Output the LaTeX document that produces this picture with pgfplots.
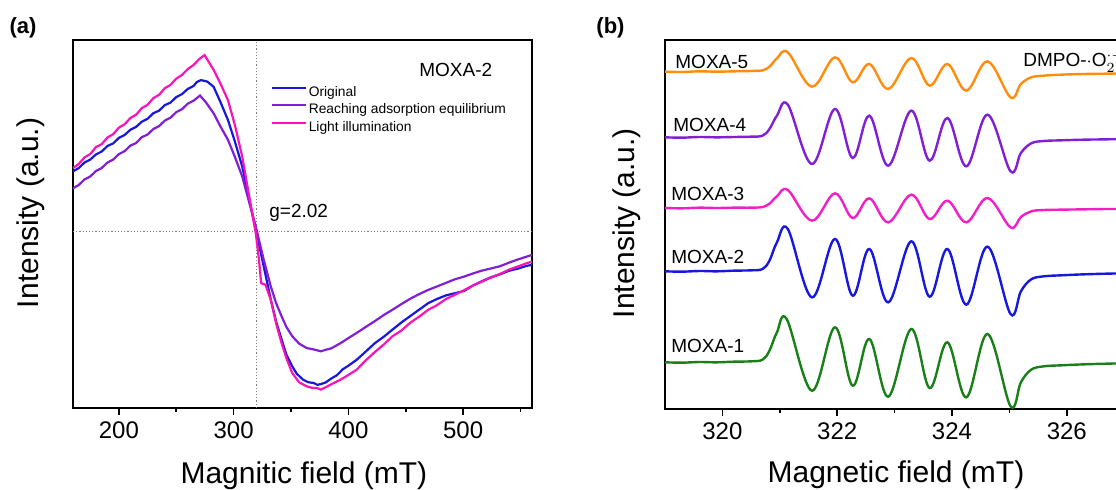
\documentclass[border=0pt]{standalone}
\usepackage{pgfplots}
\pgfplotsset{compat=1.18}
\usepackage{fontspec}
\setmainfont{Liberation Sans}
\definecolor{cBlue}{rgb}{0.09,0.09,0.88}
\definecolor{cPurple}{rgb}{0.50,0.12,0.84}
\definecolor{cPink}{rgb}{0.98,0.08,0.72}
\definecolor{cOrange}{rgb}{1.0,0.55,0.05}
\definecolor{cMag}{rgb}{0.94,0.12,0.78}
\definecolor{cGreen}{rgb}{0.10,0.50,0.10}
\pgfplotsset{
  common/.style={
    scale only axis,
    anchor=south west,
    ytick=\empty,
    tick pos=left,
    tick align=outside,
    axis line style={line width=1pt},
    every tick/.style={line width=0.8pt,black},
    major tick length=3.5pt,
    minor tick length=2pt,
    /pgf/number format/assume math mode=true,
    ticklabel style={font=\fontsize{12}{14}\selectfont},
    label style={font=\fontsize{15}{18}\selectfont},
    every axis plot/.append style={line width=1.1pt},
  }
}
\begin{document}
\begin{tikzpicture}
% ---------------- panel (a)
\begin{axis}[common,
  at={(36.5pt,40.5pt)}, width=229.5pt, height=184pt,
  xmin=160, xmax=560, ymin=0, ymax=100,
  xtick={200,300,400,500}, minor xtick={250,350,450,550},
  xlabel={Magnitic field (mT)}, ylabel={Intensity (a.u.)},
  xlabel style={at={(axis description cs:0.503,-0.204)}, anchor=base},
  ylabel style={at={(axis description cs:-0.075,0.53)}, anchor=base},
  legend style={at={(0.431,0.875)}, anchor=north west, draw=none, fill=none,
    font=\fontsize{6.9}{8}\selectfont, row sep=2.05pt, inner sep=0pt, outer sep=0pt,
    nodes={inner sep=0pt, text height=5.2pt, text depth=1.5pt},
    /tikz/every odd column/.style={column sep=1pt}},
  legend cell align=left,
  legend image code/.code={\draw[#1,line width=1pt] (0pt,2.4pt) -- (17pt,2.4pt);},
]
\draw[gray, densely dotted, line width=0.6pt] (axis cs:320,0) -- (axis cs:320,100);
\draw[gray, densely dotted, line width=0.6pt] (axis cs:160,47.9) -- (axis cs:560,47.9);
\addplot[cBlue] coordinates {
(160,64.3) (165,65.2) (170,66.7) (175,67.5) (180,68.9) (185,69.7) (190,71.2) (195,71.9)
(200,73.4) (205,74.2) (210,75.6) (215,76.4) (220,77.8) (225,78.6) (230,80.1) (235,80.8)
(240,82.3) (245,83.0) (250,84.5) (255,85.3) (260,86.7) (265,87.5) (268,88.6) (271.6,89.1)
(277,88.7) (282.5,87.3) (288,83.5) (295,78.3) (301,72.5) (307.5,65.6) (313,57.5) (319.3,48.4)
(326.2,38.5) (332.4,29.4) (337,23.5) (341.8,18.6) (346,14.5) (351.1,11.3) (355,9.3) (360.5,7.7)
(365,7.0) (369.8,6.8) (373,6.3) (376,6.5) (380,6.9) (385,8.0) (390,8.9) (395,10.5) (400,11.5)
(407.2,13.1) (415,15.3) (423,17.6) (431,19.4) (438.4,21.3) (446,23.2) (454,25.0) (462,26.8)
(469.6,28.5) (477,29.6) (485,30.6) (493,31.2) (500.8,31.8) (508,33.2) (516,34.4) (524,35.5)
(531.9,36.3) (540,37.3) (548,37.9) (555,38.6) (560,38.9)};
\addlegendentry{Original}
\addplot[cPurple] coordinates {
(160,59.7) (165,60.6) (170,62.1) (175,62.9) (180,64.4) (185,65.2) (190,66.7) (195,67.5)
(200,69.0) (205,69.8) (210,71.3) (215,72.0) (220,73.6) (225,74.3) (230,75.8) (235,76.6)
(240,78.1) (245,78.9) (250,80.4) (255,81.2) (260,82.7) (265,83.5) (270.7,84.9)
(276,83.0) (282.5,80.1) (288,76.8) (295,72.9) (301,68.3) (307.5,62.9) (313,56.5) (319.3,49.3)
(326.2,40.3) (332.4,33.0) (337,28.5) (341.8,24.9) (346,22.0) (351.1,19.5) (357,17.5) (363.6,16.3)
(370,15.9) (376.1,15.4) (380,15.8) (385,16.2) (393,17.6) (400,19.0)
(407.2,20.4) (415,22.0) (423,23.6) (431,25.3) (438.4,26.7) (446,28.2) (454,29.7) (462,31.0)
(469.6,32.1) (477,33.0) (485,34.0) (493,35.0) (500.8,35.7) (508,36.5) (516,37.3) (524,37.9)
(531.9,38.5) (540,39.5) (548,40.4) (555,41.1) (560,41.6)};
\addlegendentry{Reaching adsorption equilibrium}
\addplot[cPink] coordinates {
(160,65.2) (165,66.3) (170,68.1) (175,69.0) (180,70.9) (185,71.7) (190,73.5) (195,74.4)
(200,76.2) (205,77.1) (210,78.8) (215,79.7) (220,81.5) (225,82.4) (230,84.2) (235,85.1)
(240,86.9) (245,87.8) (250,89.5) (255,90.5) (260,92.1) (265,93.2) (270,94.8) (274.7,95.9)
(278,94.2) (282.5,91.9) (288,88.5) (295,83.7) (301,77.0) (307.5,68.3) (313,58.5) (319.3,47.5)
(322,40.5) (324,33.9) (327.7,33.5) (332.4,29.4) (337,23.0) (341.8,17.6) (346,13.5) (351.1,9.5)
(357,7.0) (363.6,5.9) (368,5.5) (372.9,5.4) (376,5.0) (380,5.6) (386,6.6) (392,7.5) (398,8.6)
(407.2,10.4) (415,12.9) (423,15.2) (431,17.3) (438.4,19.5) (446,21.0) (454,23.2) (462,24.9)
(469.6,26.7) (477,27.9) (485,29.6) (493,30.8) (500.8,32.0) (508,33.2) (516,34.3) (524,35.4)
(531.9,36.4) (540,37.6) (548,38.5) (555,39.3) (560,39.8)};
\addlegendentry{Light illumination}
\node[anchor=base, font=\fontsize{9.5}{11}\selectfont] at (rel axis cs:0.834,0.902) {MOXA-2};
\node[anchor=base west, inner sep=0pt, font=\fontsize{9.5}{11}\selectfont] at (rel axis cs:0.427,0.519) {g=2.02};
\end{axis}
% ---------------- panel (b)
\begin{axis}[common,
  at={(332.5pt,40pt)}, width=229.6pt, height=184.5pt,
  xmin=319, xmax=327, ymin=0, ymax=110.7,
  xtick={320,322,324,326}, minor xtick={321,323,325},
  xlabel={Magnetic field (mT)}, ylabel={Intensity (a.u.)},
  xlabel style={at={(axis description cs:0.503,-0.2005)}, anchor=base},
  ylabel style={at={(axis description cs:-0.066,0.504)}, anchor=base},
  every axis plot/.append style={smooth, tension=0.6, line width=1.2pt},
]
\addplot[cOrange] coordinates {
(319.0,101.2) (319.3,101.1) (319.6,101.3) (319.9,101.2) (320.2,101.3) (320.5,101.4) (320.7,101.6)
(320.82,102.7) (320.95,105.2) (321.14,107.0) (321.56,96.7) (321.96,105.5) (322.27,98.0)
(322.56,103.5) (322.89,96.0) (323.29,105.3) (323.61,97.0) (323.92,103.5) (324.25,95.5)
(324.62,104.3) (325.02,93.5) (325.2,97.5) (325.38,99.5) (325.6,100.0)
(325.9,100.3) (326.3,100.5) (326.7,100.6) (327.0,100.7)};
\addplot[cPurple] coordinates {
(319.0,81.5) (319.3,81.4) (319.6,81.6) (319.9,81.5) (320.2,81.6) (320.5,81.7) (320.7,82.0)
(320.82,84.0) (320.95,88.0) (321.14,91.3) (321.56,73.5) (321.96,90.0) (322.27,75.3)
(322.56,88.0) (322.89,73.0) (323.29,89.5) (323.61,74.5) (323.92,87.3) (324.25,72.8)
(324.62,88.3) (325.02,71.3) (325.2,76.8) (325.38,79.7) (325.6,80.4)
(325.9,80.6) (326.3,80.8) (326.7,80.9) (327.0,81.0)};
\addplot[cMag] coordinates {
(319.0,60.3) (319.3,60.2) (319.6,60.4) (319.9,60.3) (320.2,60.4) (320.5,60.4) (320.7,60.6)
(320.82,61.6) (320.95,63.8) (321.14,65.7) (321.56,56.5) (321.96,64.7) (322.27,57.3)
(322.56,63.2) (322.89,56.0) (323.29,64.3) (323.61,57.0) (323.92,62.5) (324.25,56.0)
(324.62,63.3) (325.02,54.5) (325.2,57.6) (325.38,59.3) (325.6,59.7)
(325.9,59.8) (326.3,59.9) (326.7,60.0) (327.0,60.0)};
\addplot[cBlue] coordinates {
(319.0,41.3) (319.3,41.2) (319.6,41.4) (319.9,41.3) (320.2,41.5) (320.5,41.6) (320.7,42.0)
(320.82,44.5) (320.95,50.0) (321.14,54.0) (321.56,33.5) (321.96,51.0) (322.27,34.0)
(322.56,48.0) (322.89,32.0) (323.29,50.3) (323.61,33.7) (323.92,48.0) (324.25,31.3)
(324.62,48.7) (325.02,28.5) (325.2,35.3) (325.38,38.9) (325.6,39.8)
(325.9,40.1) (326.3,40.4) (326.7,40.6) (327.0,40.7)};
\addplot[cGreen] coordinates {
(319.0,14.0) (319.3,13.9) (319.6,14.1) (319.9,14.0) (320.2,14.2) (320.5,14.3) (320.7,14.8)
(320.82,17.5) (320.95,23.0) (321.12,27.0) (321.56,5.5) (321.96,24.5) (322.27,7.0)
(322.56,21.0) (322.89,3.7) (323.29,24.0) (323.61,6.3) (323.92,20.0) (324.25,3.5)
(324.62,22.5) (325.02,0.8) (325.2,8.0) (325.38,11.8) (325.6,12.8)
(325.9,13.1) (326.3,13.4) (326.7,13.6) (327.0,13.7)};
\begin{scope}[every node/.style={anchor=base west, inner sep=0pt, font=\fontsize{9.5}{11}\selectfont}]
\node at (rel axis cs:0.0218,0.922) {MOXA-5};
\node at (rel axis cs:0.0174,0.753) {MOXA-4};
\node at (rel axis cs:0.013,0.566) {MOXA-3};
\node at (rel axis cs:0.013,0.393) {MOXA-2};
\node at (rel axis cs:0.013,0.154) {MOXA-1};
\node at (rel axis cs:0.7796,0.927) {DMPO-$\cdot$O$_2^{\cdot-}$};
\end{scope}
\end{axis}
\node[font=\bfseries\fontsize{11}{13}\selectfont] at (11.5pt,230.5pt) {(a)};
\node[font=\bfseries\fontsize{11}{13}\selectfont] at (305.25pt,230.5pt) {(b)};
\pgfresetboundingbox
\useasboundingbox (0pt,0pt) rectangle (558pt,244.5pt);
\end{tikzpicture}
\end{document}
